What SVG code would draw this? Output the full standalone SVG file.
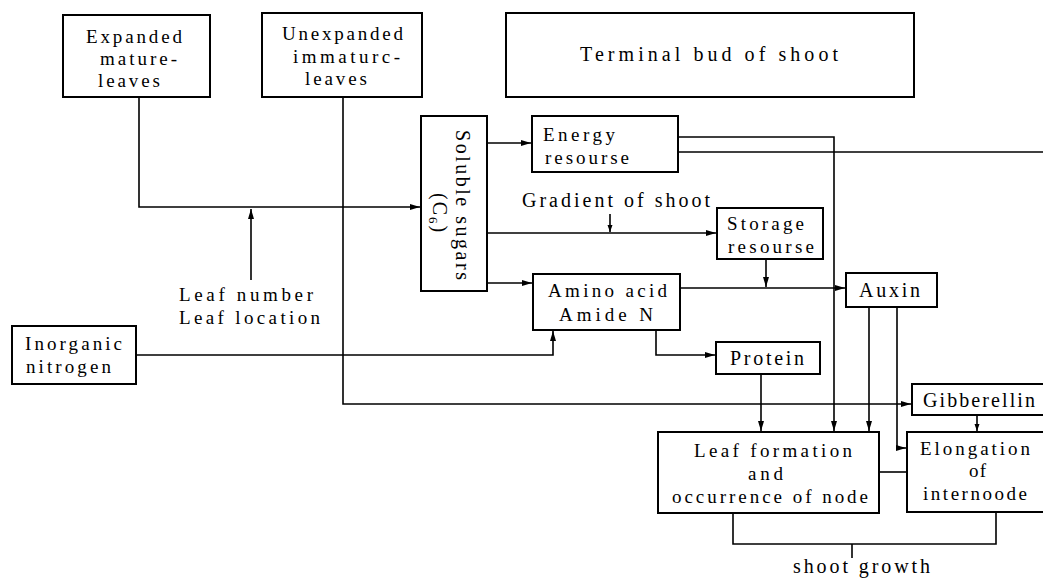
<svg xmlns="http://www.w3.org/2000/svg" width="1043" height="578" viewBox="0 0 1043 578">
<style>
.box{fill:#fff;stroke:#000;stroke-width:2}
.ln{fill:none;stroke:#000;stroke-width:1.6}
text{font-family:"Liberation Serif","Times New Roman",serif;fill:#000}
.t{font-size:20px}
.s{font-size:19px}
</style>
<defs>
<marker id="ah" markerUnits="userSpaceOnUse" markerWidth="11" markerHeight="7" refX="10" refY="3.5" orient="auto">
<path d="M0,0.5 L10,3.5 L0,6.5 z" fill="#000"/>
</marker>
<marker id="ahs" markerUnits="userSpaceOnUse" markerWidth="8" markerHeight="6" refX="7" refY="3" orient="auto">
<path d="M0,0.5 L7,3 L0,5.5 z" fill="#000"/>
</marker>
</defs>
<rect width="1043" height="578" fill="#fff"/>
<g id="connectors">
<path class="ln" d="M139,97 V207 H420" marker-end="url(#ah)"/>
<path class="ln" d="M251,280 V209" marker-end="url(#ah)"/>
<path class="ln" d="M343,97 V404 H911" marker-end="url(#ah)"/>
<path class="ln" d="M487,143 H531" marker-end="url(#ah)"/>
<path class="ln" d="M487,233 H716" marker-end="url(#ah)"/>
<path class="ln" d="M610,214 V232" marker-end="url(#ahs)"/>
<path class="ln" d="M487,283 H532" marker-end="url(#ah)"/>
<path class="ln" d="M678,137 H834 V431" marker-end="url(#ah)"/>
<path class="ln" d="M678,152 H1043"/>
<path class="ln" d="M766,259 V287" marker-end="url(#ah)"/>
<path class="ln" d="M680,288 H845" marker-end="url(#ah)"/>
<path class="ln" d="M136,355 H553 V331" marker-end="url(#ah)"/>
<path class="ln" d="M656,330 V355 H715" marker-end="url(#ah)"/>
<path class="ln" d="M761,374 V431" marker-end="url(#ah)"/>
<path class="ln" d="M869,307 V431" marker-end="url(#ah)"/>
<path class="ln" d="M897,307 V448 H906" marker-end="url(#ah)"/>
<path class="ln" d="M977,415 V431" marker-end="url(#ahs)"/>
<path class="ln" d="M879,472 H907"/>
<path class="ln" d="M733,513 V544 H996 V512"/>
<path class="ln" d="M852,544 V558"/>
</g>
<g id="expanded">
<rect class="box" x="63" y="15" width="147" height="82"/>
<text class="s" x="86" y="43" textLength="96" lengthAdjust="spacing">Expanded</text>
<text class="s" x="100" y="65" textLength="77" lengthAdjust="spacing">mature-</text>
<text class="s" x="98" y="87" textLength="62" lengthAdjust="spacing">leaves</text>
</g>
<g id="unexpanded">
<rect class="box" x="262" y="13" width="160" height="84"/>
<text class="s" x="282" y="40" textLength="121" lengthAdjust="spacing">Unexpanded</text>
<text class="s" x="293" y="63" textLength="107" lengthAdjust="spacing">immaturc-</text>
<text class="s" x="305" y="85" textLength="62" lengthAdjust="spacing">leaves</text>
</g>
<g id="terminal">
<rect class="box" x="506" y="13" width="408" height="84"/>
<text class="t" x="580" y="61" textLength="258" lengthAdjust="spacing">Terminal bud of shoot</text>
</g>
<g id="sugars">
<rect class="box" x="421" y="116" width="66" height="175"/>
<text class="t" transform="translate(456,130) rotate(90)" textLength="150" lengthAdjust="spacing">Soluble sugars</text>
<text class="t" transform="translate(433,193) rotate(90)" letter-spacing="2">(C<tspan font-size="13" dy="4">6</tspan><tspan dy="-4">)</tspan></text>
</g>
<g id="energy">
<rect class="box" x="532" y="116" width="146" height="56"/>
<text class="s" x="543" y="141" textLength="72" lengthAdjust="spacing">Energy</text>
<text class="s" x="545" y="164" textLength="84" lengthAdjust="spacing">resourse</text>
</g>
<g id="gradient-label">
<text class="t" x="522" y="207" textLength="188" lengthAdjust="spacing">Gradient of shoot</text>
</g>
<g id="storage">
<rect class="box" x="717" y="208" width="106" height="51"/>
<text class="s" x="727" y="230" textLength="77" lengthAdjust="spacing">Storage</text>
<text class="s" x="728" y="253" textLength="86" lengthAdjust="spacing">resourse</text>
</g>
<g id="amino">
<rect class="box" x="533" y="274" width="147" height="56"/>
<text class="s" x="548" y="297" textLength="119" lengthAdjust="spacing">Amino acid</text>
<text class="s" x="559" y="321" textLength="94" lengthAdjust="spacing">Amide N</text>
</g>
<g id="auxin">
<rect class="box" x="846" y="273" width="91" height="34"/>
<text class="t" x="859" y="297" textLength="61" lengthAdjust="spacing">Auxin</text>
</g>
<g id="leaf-label">
<text class="s" x="179" y="301" textLength="134" lengthAdjust="spacing">Leaf number</text>
<text class="s" x="179" y="324" textLength="141" lengthAdjust="spacing">Leaf location</text>
</g>
<g id="inorganic">
<rect class="box" x="12" y="326" width="124" height="58"/>
<text class="s" x="25" y="350" textLength="97" lengthAdjust="spacing">Inorganic</text>
<text class="s" x="26" y="373" textLength="85" lengthAdjust="spacing">nitrogen</text>
</g>
<g id="protein">
<rect class="box" x="716" y="342" width="104" height="32"/>
<text class="t" x="730" y="365" textLength="74" lengthAdjust="spacing">Protein</text>
</g>
<g id="gibberellin">
<rect class="box" x="912" y="384" width="140" height="31"/>
<text class="t" x="923" y="407" textLength="112" lengthAdjust="spacing">Gibberellin</text>
</g>
<g id="leaf-formation">
<rect class="box" x="658" y="432" width="221" height="81"/>
<text class="s" x="694" y="457" textLength="158" lengthAdjust="spacing">Leaf formation</text>
<text class="s" x="748" y="480" textLength="35" lengthAdjust="spacing">and</text>
<text class="s" x="672" y="503" textLength="196" lengthAdjust="spacing">occurrence of node</text>
</g>
<g id="elongation">
<rect class="box" x="907" y="432" width="145" height="80"/>
<text class="s" x="920" y="455" textLength="110" lengthAdjust="spacing">Elongation</text>
<text class="s" x="969" y="477" textLength="17" lengthAdjust="spacing">of</text>
<text class="s" x="923" y="500" textLength="104" lengthAdjust="spacing">internoode</text>
</g>
<g id="shoot-growth">
<text class="t" x="793" y="573" textLength="137" lengthAdjust="spacing">shoot growth</text>
</g>
</svg>
